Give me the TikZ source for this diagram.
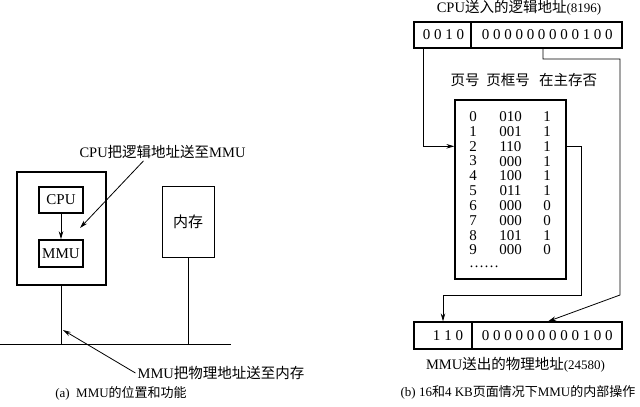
\documentclass[tikz,border=0pt]{standalone}
\usepackage{fontspec}
\setmainfont{Liberation Serif}
\newfontfamily\cjk{Noto Sans CJK SC}
\usetikzlibrary{arrows.meta,calc,positioning}
\newcommand{\zh}[1]{{\cjk #1}}
\tikzset{
    mybox/.style={draw=black,line width=1.6pt,inner sep=0pt,font=\fontsize{15}{15}\selectfont},
    thinbox/.style={draw=black,line width=0.8pt,inner sep=0pt,font=\fontsize{15}{15}\selectfont},
    addrbox/.style={draw=black,line width=1.2pt,inner sep=0pt},
    myline/.style={line width=0.8pt,draw=black},
    myarrow/.style={line width=0.8pt,draw=black,-{Stealth[length=8pt,width=4.5pt]}},
    mybit/.style={inner sep=0pt,font=\fontsize{15}{15}\selectfont},
    mylabel/.style={inner sep=2pt,font=\fontsize{14.5}{16}\selectfont},
    mycap/.style={inner sep=0pt,font=\fontsize{13}{15}\selectfont}
}
\begin{document}
\begin{tikzpicture}[x=1pt,y=-1pt]
  \useasboundingbox (0,0) rectangle (640,407);
  % (a) position of the MMU
  \node[mybox,minimum width=89pt,minimum height=113pt] (chip) at (61.5,228.5) {};
  \node[mybox,minimum width=44pt,minimum height=26pt] (cpu) at (61,200) {CPU};
  \node[mybox,minimum width=44pt,minimum height=27pt] (mmu) at (61,253.5) {MMU};
  \node[thinbox,minimum width=52pt,minimum height=71pt] (mem) at (188,221.5) {\zh{内存}};
  \coordinate (busL) at (0,344);
  \coordinate (busR) at (231,344);
  \draw[myline] (busL) -- (busR);
  \draw[myline] (chip.south) -- (chip.south |- busL);
  \draw[myline] (mem.south) -- (mem.south |- busL);
  \draw[myarrow] (cpu) -- (mmu);

  \node[mylabel] (lab1) at (162.5,152) {CPU\zh{把逻辑地址送至}MMU};
  \coordinate (tip1) at (80,228);
  \draw[myarrow] ([xshift=-19pt]lab1.south) -- (tip1);
  \node[mylabel] (lab2) at (221,373) {MMU\zh{把物理地址送至内存}};
  \coordinate (tip2) at (63,330);
  \draw[myarrow] (lab2.west) -- (tip2);
  \node[mycap] (capa) at (121,393) {(a)\ \ MMU\zh{的位置和功能}};

  % (b) logical address
  \node[mylabel] (title) at (519,8) {CPU\zh{送入的逻辑地址}{\fontsize{13}{13}\selectfont(8196)}};
  \node[addrbox,minimum width=57pt,minimum height=26pt] (vpn) at (442.5,35) {};
  \node[addrbox,minimum width=151pt,minimum height=26pt] (off) at (546.5,35) {};
  \foreach \d [count=\i from 0] in {0,0,1,0}
    \node[mybit] (v\i) at (426.7+11.2*\i,35) {\d};
  \foreach \d [count=\i from 0] in {0,0,0,0,0,0,0,0,0,1,0,0}
    \node[mybit] (o\i) at (485.7+11.2*\i,35) {\d};

  % page table
  \node[mylabel] (h1) at (465,80) {\zh{页号}};
  \node[mylabel] (h2) at (508,80) {\zh{页框号}};
  \node[mylabel] (h3) at (568,80) {\zh{在主存否}};
  \node[addrbox,minimum width=111pt,minimum height=179pt] (ptab) at (510.5,189.5) {};
  \foreach \f/\p [count=\i from 0] in {010/1,001/1,110/1,000/1,100/1,011/1,000/0,000/0,101/1,000/0}{
    \node[mybit] (i\i) at (473,116.7+14.8*\i) {\i};
    \node[mybit] (f\i) at (510.5,116.7+14.8*\i) {\f};
    \node[mybit] (p\i) at (547,116.7+14.8*\i) {\p};
  }
  \node[mybit,anchor=west] (dots) at (469,267) {……};

  % physical address
  \node[addrbox,minimum width=58pt,minimum height=27pt] (ppn) at (443,335.5) {};
  \node[addrbox,minimum width=150pt,minimum height=27pt] (poff) at (547,335.5) {};
  \foreach \d [count=\i from 0] in {1,1,0}
    \node[mybit] (n\i) at (436.7+11.3*\i,335.5) {\d};
  \foreach \d [count=\i from 0] in {0,0,0,0,0,0,0,0,0,1,0,0}
    \node[mybit] (q\i) at (485.7+11.2*\i,335.5) {\d};
  \node[mylabel] (lab3) at (515.5,365) {MMU\zh{送出的物理地址}{\fontsize{13}{13}\selectfont(24580)}};
  \node[mycap] (capb) at (518,392) {(b) 16\zh{和}4 KB\zh{页面情况下}MMU\zh{的内部操作}};

  % connectors
  \coordinate (r1) at (581,295);
  \coordinate (r2) at (620,59);
  \coordinate (r3) at (620,295);
  \draw[myarrow] ([xshift=-19.5pt]vpn.south) |- (ptab.west |- i2);
  \draw[myarrow] (ptab.east |- i2) -| (r1) -| (ppn.north);
  \draw[myarrow] ([xshift=-3.5pt]off.south) |- (r2) -- (r3) -- ([xshift=1pt]poff.north);
\end{tikzpicture}
\end{document}
